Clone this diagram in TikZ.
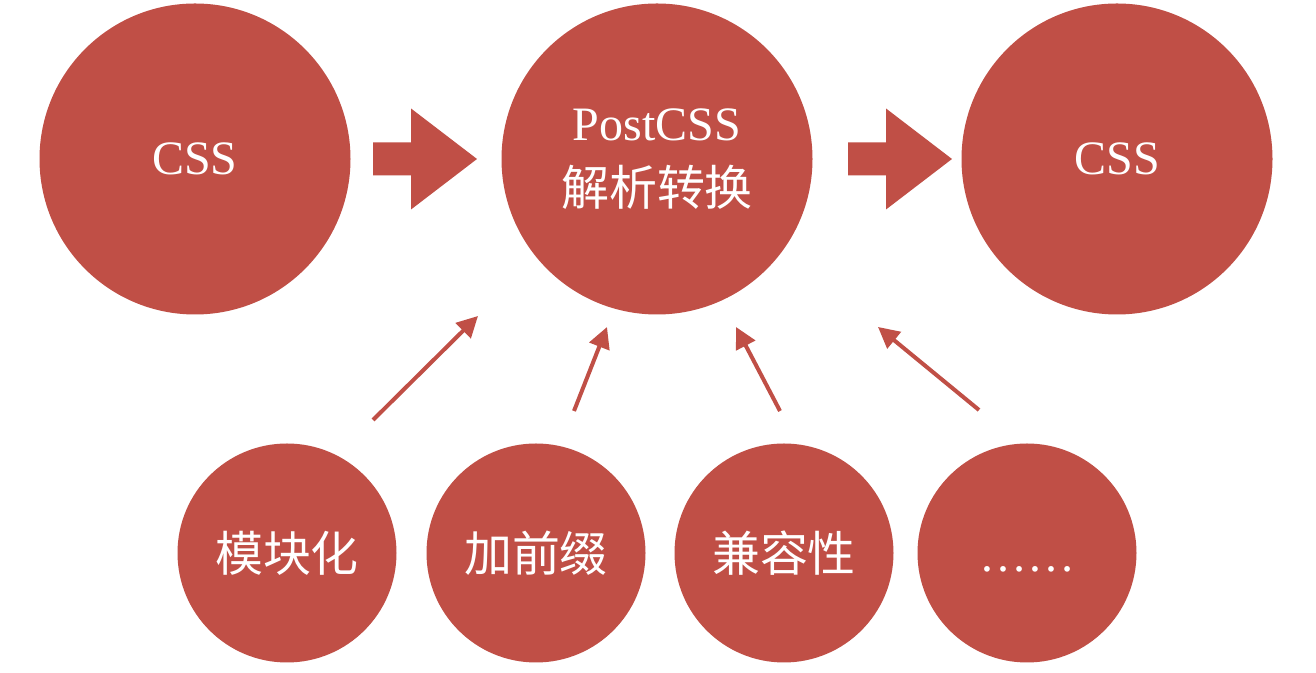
\documentclass[tikz,border=0pt]{standalone}
\usepackage{fontspec}
\setmainfont{Liberation Serif}
\newfontfamily\cjk{Noto Sans CJK SC}
\usepackage{xcolor}
\usepackage{tikz}
\usetikzlibrary{arrows, arrows.meta}
\definecolor{ballred}{HTML}{C04F46}
\tikzset{
	bigball/.style={circle, fill=ballred, text=white, minimum size=6.22cm, inner sep=0pt, align=center, font=\fontsize{27.3}{37}\selectfont},
	smallball/.style={circle, fill=ballred, text=white, minimum size=4.38cm, inner sep=0pt, font=\fontsize{27.3}{37}\selectfont},
	thinarr/.style={draw=ballred, line width=0.08cm, -{Triangle[length=0.42cm, width=0.42cm]}},
	blockarr/.style={fill=ballred}
}

\begin{document}
\begin{tikzpicture}
			\useasboundingbox (0,0) rectangle (26.32,13.46);
			\fill[white] (0,0) rectangle (26.32,13.46);
			% top row
			\node[bigball] (cssin) at (3.90,10.28){CSS};
			\node[bigball] (postcss) at (13.14,10.28){PostCSS\\{\cjk 解析转换}};
			\node[bigball] (cssout) at (22.34,10.28){CSS};
			% plugins
			\node[smallball] (modular) at (5.74,2.40){\cjk 模块化};
			\node[smallball] (prefix) at (10.72,2.40){\cjk 加前缀};
			\node[smallball] (compat) at (15.68,2.40){\cjk 兼容性};
			\node[smallball] (more) at (20.54,2.40){{\cjk\vphantom{兼}}……};
			% block arrows
			\coordinate (blk1) at (7.46,10.28);
			\coordinate (blk2) at (16.96,10.28);
			\foreach \b in {blk1, blk2}{
				\fill[blockarr, shift={(\b)}] (0,0.33) -- (0.76,0.33) -- (0.76,1.01) -- (2.08,0) -- (0.76,-1.01) -- (0.76,-0.33) -- (0,-0.33) -- cycle;
			}
			% thin arrows
			\coordinate (tail1) at (7.46,5.06);  \coordinate (tip1) at (9.56,7.14);
			\coordinate (tail2) at (11.48,5.24); \coordinate (tip2) at (12.14,6.92);
			\coordinate (tail3) at (15.60,5.24); \coordinate (tip3) at (14.72,6.92);
			\coordinate (tail4) at (19.58,5.26); \coordinate (tip4) at (17.56,6.92);
			\foreach \i in {1,...,4}{
				\draw[thinarr] (tail\i) -- (tip\i);
			}
		\end{tikzpicture}
\end{document}
